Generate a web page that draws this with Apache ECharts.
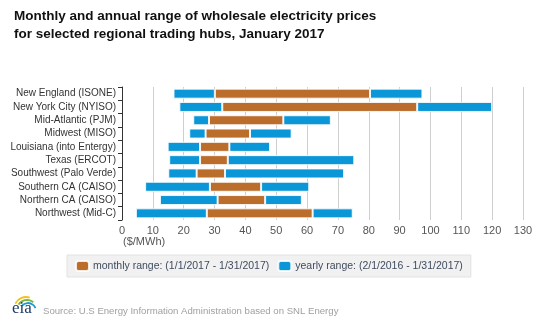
<!DOCTYPE html>
<html>
<head>
<meta charset="utf-8">
<script src="https://cdn.jsdelivr.net/npm/echarts@6/dist/echarts.min.js"></script>
<style>
  html, body { margin: 0; padding: 0; background: #fff; }
  #chart { width: 540px; height: 321px; }
</style>
</head>
<body>
<div id="chart"></div>
<script>
// Trading hubs, top to bottom
const hubs = [
  'New England (ISONE)',
  'New York City (NYISO)',
  'Mid-Atlantic (PJM)',
  'Midwest (MISO)',
  'Louisiana (into Entergy)',
  'Texas (ERCOT)',
  'Southwest (Palo Verde)',
  'Southern CA (CAISO)',
  'Northern CA (CAISO)',
  'Northwest (Mid-C)'
];

// Prices in $/MWh
const yearlyLow   = [16.7, 18.6, 23.1, 21.8, 14.8, 15.3, 15.0,  7.5, 12.3,  4.5];
const monthlyLow  = [30.1, 32.5, 28.2, 27.1, 25.3, 25.3, 24.2, 28.5, 31.0, 27.5];
const monthlyHigh = [80.4, 95.7, 52.3, 41.5, 34.8, 34.3, 33.4, 45.1, 46.4, 61.8];
const yearlyHigh  = [97.4, 120.0, 67.7, 55.0, 48.0, 75.3, 72.0, 60.7, 58.3, 74.8];

const xTicks = { min: 0, max: 130, step: 10 };

const MONTHLY = 'monthly range: (1/1/2017 - 1/31/2017)';
const YEARLY = 'yearly range: (2/1/2016 - 1/31/2017)';
const ORANGE = '#bb6d2c';
const BLUE = '#0a96d7';
const FONT = '"Liberation Sans", Arial, sans-serif';

// Stack segments: hidden offset, yearly low part, monthly range, yearly high part
const offset = yearlyLow.slice();
const lowPart = monthlyLow.map((v, i) => +(v - yearlyLow[i]).toFixed(2));
const midPart = monthlyHigh.map((v, i) => +(v - monthlyLow[i]).toFixed(2));
const highPart = yearlyHigh.map((v, i) => +(v - monthlyHigh[i]).toFixed(2));

const barStyle = (color) => ({
  color: color,
  borderColor: 'rgba(255,255,255,0.85)',
  borderWidth: 1
});

const chart = echarts.init(document.getElementById('chart'), null, { renderer: 'canvas' });

chart.setOption({
  animation: false,
  textStyle: { fontFamily: FONT },
  title: {
    text: 'Monthly and annual range of wholesale electricity prices\nfor selected regional trading hubs, January 2017',
    left: 14,
    top: 7,
    padding: 0,
    textStyle: {
      fontFamily: FONT,
      fontSize: 13.5,
      fontWeight: 'bold',
      color: '#111',
      lineHeight: 18
    }
  },
  legend: {
    data: [
      { name: MONTHLY, itemStyle: { color: ORANGE } },
      { name: YEARLY, itemStyle: { color: BLUE } }
    ],
    left: 67,
    top: 255,
    padding: [5, 8, 5, 8],
    itemWidth: 13,
    itemHeight: 10,
    itemGap: 8,
    icon: 'roundRect',
    backgroundColor: '#f1f1f1',
    borderColor: '#e2e2e2',
    borderWidth: 1,
    textStyle: { fontFamily: FONT, fontSize: 10.5, color: '#3f4b5e', padding: [0, 0, 0, -1] },
    selectedMode: false
  },
  grid: {
    left: 122,
    right: 17,
    top: 87,
    bottom: 101,
    containLabel: false,
    outerBoundsMode: 'none'
  },
  xAxis: {
    type: 'value',
    min: xTicks.min,
    max: xTicks.max,
    interval: xTicks.step,
    axisLine: { show: false },
    axisTick: { show: false },
    axisLabel: { color: '#555', fontSize: 11, margin: 5, fontFamily: FONT },
    splitLine: { show: true, lineStyle: { color: '#cfcfcf', width: 1 } }
  },
  yAxis: {
    type: 'category',
    data: hubs,
    inverse: true,
    axisLine: { show: true, lineStyle: { color: '#333', width: 1 } },
    axisTick: { show: true, length: 4, interval: 0, lineStyle: { color: '#333' } },
    axisLabel: { color: '#333', fontSize: 10, margin: 6, interval: 0, fontFamily: FONT }
  },
  series: [
    {
      name: 'offset',
      type: 'bar',
      stack: 'range',
      data: offset,
      barWidth: 10,
      itemStyle: { color: 'transparent' },
      silent: true
    },
    {
      name: YEARLY,
      type: 'bar',
      stack: 'range',
      data: lowPart,
      barWidth: 10,
      itemStyle: barStyle(BLUE)
    },
    {
      name: MONTHLY,
      type: 'bar',
      stack: 'range',
      data: midPart,
      barWidth: 10,
      itemStyle: barStyle(ORANGE)
    },
    {
      name: YEARLY,
      type: 'bar',
      stack: 'range',
      data: highPart,
      barWidth: 10,
      itemStyle: barStyle(BLUE)
    }
  ],
  graphic: [
    {
      type: 'text',
      left: 123,
      top: 236,
      style: { text: '($/MWh)', fill: '#555', font: '11px ' + FONT }
    },
    {
      type: 'text',
      left: 43,
      top: 306,
      style: {
        text: 'Source: U.S Energy Information Administration based on SNL Energy',
        fill: '#a0a0a0',
        font: '9.6px ' + FONT
      }
    },
    // logo
    {
      type: 'arc',
      shape: { cx: 26, cy: 309, r: 12, startAngle: Math.PI * 1.15, endAngle: Math.PI * 1.6 },
      style: { stroke: '#f2c218', lineWidth: 1.8, fill: null }
    },
    {
      type: 'arc',
      shape: { cx: 27, cy: 310, r: 10, startAngle: Math.PI * 1.18, endAngle: Math.PI * 1.72 },
      style: { stroke: '#7bb441', lineWidth: 1.8, fill: null }
    },
    {
      type: 'arc',
      shape: { cx: 28, cy: 311, r: 8, startAngle: Math.PI * 1.22, endAngle: Math.PI * 1.88 },
      style: { stroke: '#1d9ad6', lineWidth: 1.8, fill: null }
    },
    {
      type: 'text',
      left: 12,
      top: 300,
      style: { text: 'eia', fill: '#1c3a66', font: '17px "Liberation Serif", "DejaVu Serif", serif' }
    }
  ]
});
</script>
</body>
</html>
